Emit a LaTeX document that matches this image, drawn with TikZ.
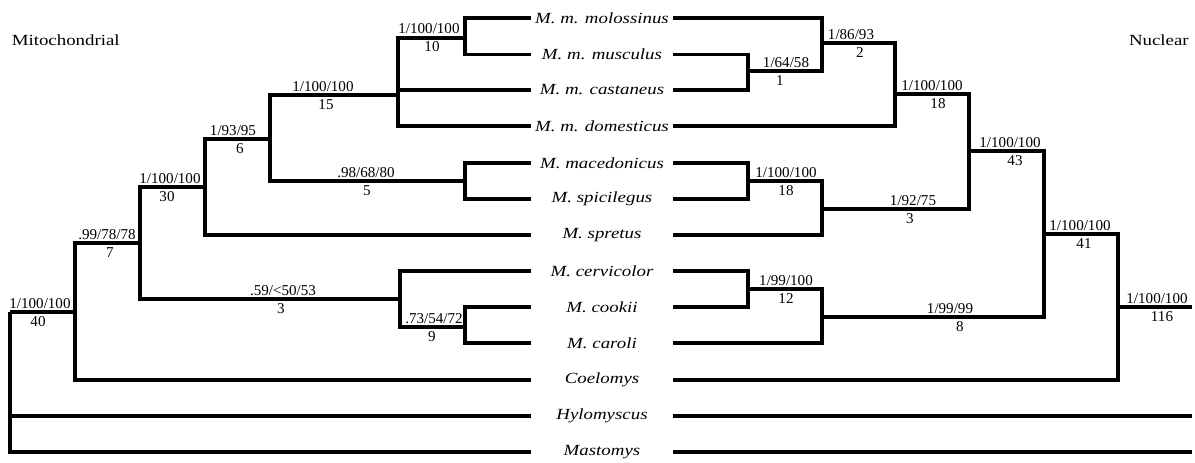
\documentclass[tikz,border=0pt]{standalone}
\usepackage{fontspec}
\setmainfont{Liberation Serif}
\newfontfamily\taxfont[FakeStretch=1.22]{Liberation Serif}
\newfontfamily\blfont{Liberation Serif}
\begin{document}
\begin{tikzpicture}[x=0.75pt,y=-0.75pt,
  br/.style={line width=2.7pt,line join=miter},
  thinbr/.style={line width=2.3pt,line join=miter},
  taxon/.style={font=\taxfont\itshape\fontsize{11.6pt}{12pt}\selectfont,inner sep=0pt,anchor=center},
  title/.style={font=\taxfont\fontsize{11.6pt}{12pt}\selectfont,inner sep=0pt,anchor=base west},
  bl/.style={font=\blfont\fontsize{11.3pt}{12pt}\selectfont,inner sep=0pt,anchor=base},
  bn/.style={font=\blfont\fontsize{11.3pt}{12pt}\selectfont,inner sep=0pt,anchor=north}]
\useasboundingbox (0,0) rectangle (1195,462);

% titles
\node[title] (tmito) at (11.5,45.5) {Mitochondrial};
\node[title,anchor=base east] (tnuc) at (1189,45.5) {Nuclear};

% taxa
\foreach \n/\y/\t in {t1/18/M. m. molossinus, t2/54.5/M. m. musculus, t3/90/M. m. castaneus,
  t4/126/M. m. domesticus, t5/163/M. macedonicus, t6/199/M. spicilegus, t7/235/M. spretus,
  t8/271/M. cervicolor, t9/307/M. cookii, t10/343/M. caroli, t11/380/Coelomys,
  t12/416/Hylomyscus, t13/452/Mastomys}{
  \node[taxon] (\n) at (602,\y) {\t};
  \coordinate (L\n) at (531,\y);
  \coordinate (R\n) at (673,\y);
}

% ---------- mitochondrial tree (left) ----------
\coordinate (m1) at (465,37.7);
\coordinate (m2) at (398,95);
\coordinate (m3) at (465,181);
\coordinate (m4) at (270,139);
\coordinate (m5) at (205,187);
\coordinate (m6) at (465,327);
\coordinate (m7) at (400,299);
\coordinate (m8) at (140,243);
\coordinate (m9) at (75,312);
\coordinate (m0) at (10,312);

\draw[br] (m1) |- (Lt1); \draw[br] (m1) |- (Lt2);
\draw[br] (m2) |- (m1); \draw[br] (m2) |- (Lt3); \draw[br] (m2) |- (Lt4);
\draw[br] (m3) |- (Lt5); \draw[br] (m3) |- (Lt6);
\draw[br] (m4) |- (m2); \draw[thinbr] (m4) |- (m3);
\draw[br] (m4 |- m3) -- (m4);
\draw[br] (m5) |- (m4); \draw[br] (m5) |- (Lt7);
\draw[br] (m6) |- (Lt9); \draw[br] (m6) |- (Lt10);
\draw[br] (m7) |- (Lt8); \draw[br] (m7) |- (m6);
\draw[br] (m8) |- (m5); \draw[br] (m8) |- (m7);
\draw[br] (m9) |- (m8); \draw[br] (m9) |- (Lt11);
\draw[br] (m0) -- (m9); \draw[br] (m0) |- (Lt12); \draw[br] (m0) |- (Lt13);

% mitochondrial support labels
\node[bl] (a0) at (40,308) {1/100/100};      \node[bn] (b0) at (38,316) {40};
\node[bl] (a9) at (107,239) {.99/78/78};     \node[bn] (b9) at (110,247) {7};
\node[bl] (a5) at (170,183) {1/100/100};     \node[bn] (b5) at (167,191) {30};
\node[bl] (a4) at (233,135) {1/93/95};       \node[bn] (b4) at (240,143) {6};
\node[bl] (a2) at (323,91) {1/100/100};      \node[bn] (b2) at (326,99) {15};
\node[bl] (a3) at (366,177) {.98/68/80};     \node[bn] (b3) at (367,185) {5};
\node[bl] (a1) at (429,33.7) {1/100/100};    \node[bn] (b1) at (432,41.7) {10};
\node[bl] (a7) at (283,295) {.59/<50/53};    \node[bn] (b7) at (281,303) {3};
\node[bl] (a6) at (434,323) {.73/54/72};     \node[bn] (b6) at (432,331) {9};

% ---------- nuclear tree (right) ----------
\coordinate (n1) at (748,71);
\coordinate (n2) at (822,43);
\coordinate (n3) at (895,94);
\coordinate (n4) at (748,181);
\coordinate (n5) at (822,209);
\coordinate (n6) at (969,151);
\coordinate (n7) at (748,289);
\coordinate (n8) at (822,317);
\coordinate (n9) at (1044,234);
\coordinate (n10) at (1118,307);
\coordinate (nend) at (1192,307);
\coordinate (e12) at (1192,416);
\coordinate (e13) at (1192,452);

\draw[br] (n1) |- (Rt2); \draw[br] (n1) |- (Rt3);
\draw[br] (n2) |- (Rt1); \draw[br] (n2) |- (n1);
\draw[br] (n3) |- (n2);
\draw[thinbr] (n3) |- (Rt4); \draw[br] (n3) -- (n3 |- Rt4) -- ++(-172,0);
\draw[br] (n4) |- (Rt5); \draw[thinbr] (n4) |- (Rt6);
\draw[br] (n4) -- (n4 |- Rt6) -- ++(-12,0);
\draw[br] (n5) |- (n4);
\draw[thinbr] (n5) |- (Rt7); \draw[br] (n5) -- (n5 |- Rt7);
\draw[br] (n6) |- (n3); \draw[br] (n6) |- (n5);
\draw[br] (n7) |- (Rt8); \draw[thinbr] (n7) |- (Rt9);
\draw[br] (n7) -- (n7 |- Rt9);
\draw[br] (n8) |- (n7);
\draw[thinbr] (n8) |- (Rt10); \draw[br] (n8) -- (n8 |- Rt10) -- ++(-30,0);
\draw[br] (n9) |- (n6); \draw[br] (n9) |- (n8);
\draw[br] (n10) |- (n9); \draw[br] (n10) |- (Rt11);
\draw[br] (n10) -- (nend);
\draw[br] (Rt12) -- (e12);
\draw[br] (Rt13) -- (e13);

% nuclear support labels
\node[bl] (c1) at (786,67) {1/64/58};        \node[bn] (d1) at (780,75) {1};
\node[bl] (c2) at (851,39) {1/86/93};        \node[bn] (d2) at (860,47) {2};
\node[bl] (c3) at (932,90) {1/100/100};      \node[bn] (d3) at (938,98) {18};
\node[bl] (c6) at (1010,147) {1/100/100};    \node[bn] (d6) at (1015,155) {43};
\node[bl] (c4) at (786,177) {1/100/100};     \node[bn] (d4) at (786,185) {18};
\node[bl] (c5) at (913,205) {1/92/75};       \node[bn] (d5) at (910,213) {3};
\node[bl] (c9) at (1080,230) {1/100/100};    \node[bn] (d9) at (1084,238) {41};
\node[bl] (c7) at (786,285) {1/99/100};      \node[bn] (d7) at (786,293) {12};
\node[bl] (c8) at (950,313) {1/99/99};       \node[bn] (d8) at (960,321) {8};
\node[bl] (c10) at (1157,303) {1/100/100};   \node[bn] (d10) at (1162,311) {116};
\end{tikzpicture}
\end{document}
